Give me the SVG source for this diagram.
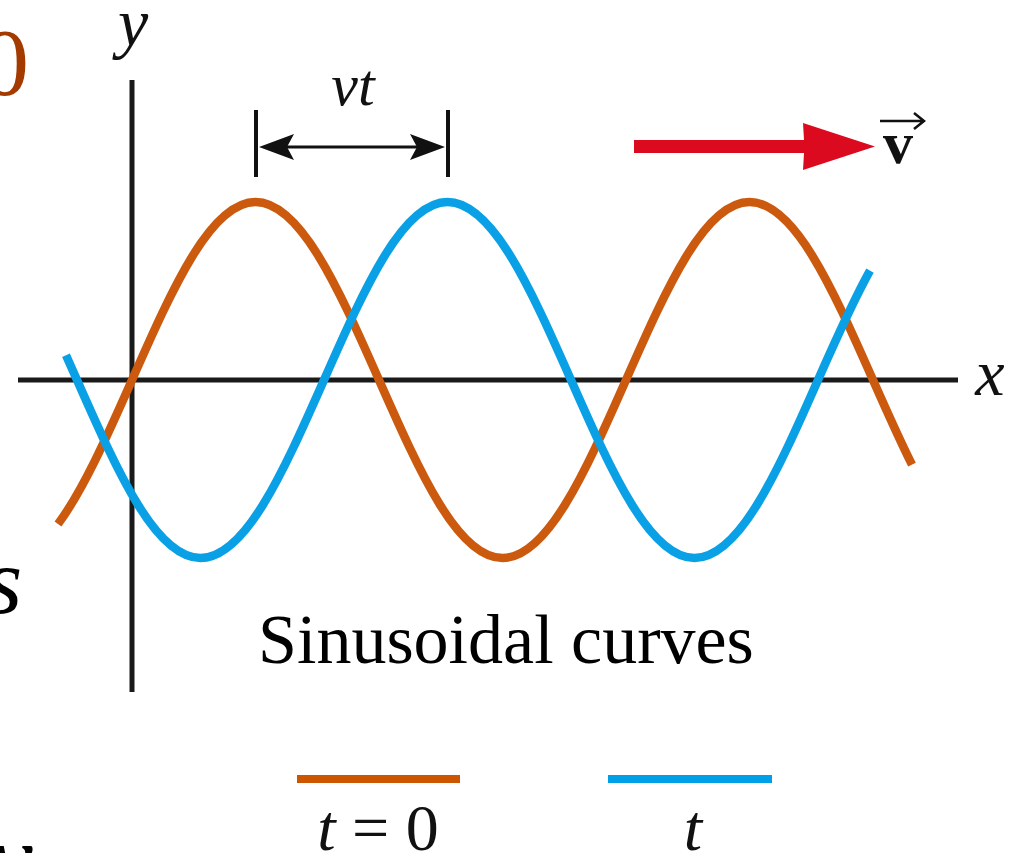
<svg xmlns="http://www.w3.org/2000/svg" width="1010" height="853" viewBox="0 0 1010 853">
<style>
.serif{font-family:"Liberation Serif","Times New Roman",serif;}
.it{font-style:italic;}
.axis{stroke:#1a1a1a;stroke-width:5;fill:none;}
.wave{fill:none;stroke-width:8.5;stroke-linecap:butt;stroke-linejoin:round;}
.orange{stroke:#CC5A0E;}
.blue{stroke:#0AA0E6;}
.dim{stroke:#111;fill:none;}
</style>
<rect width="1010" height="853" fill="#ffffff"/>
<g id="background-text" class="serif">
<text x="-19" y="95" font-size="96" fill="#A33B00">0</text>
<text x="-15" y="613" font-size="96" class="it" fill="#000">s</text>
<text x="-10" y="890" font-size="96" class="it" fill="#000">v</text>
</g>
<g id="axes">
<line class="axis" x1="132" y1="80" x2="132" y2="692"/>
<line class="axis" x1="18" y1="380" x2="958" y2="380"/>
<text class="serif it" x="133" y="46" font-size="68" text-anchor="middle" fill="#111">y</text>
<text class="serif it" x="990" y="395" font-size="66" text-anchor="middle" fill="#111">x</text>
</g>
<g id="connectors">
<path id="wave-t0" class="wave orange" d="M58,524 C82.67,491.07 107.33,435.85 132,380 C173.28,286.53 210.97,202 255.5,202 S337.72,286.53 379,380 S457.97,558 502.5,558 S584.72,473.47 626,380 S704.97,202 749.5,202 S831.72,286.53 873,380 C886,409.43 899,438.8 912,464.7"/>
<path id="wave-t" class="wave blue" d="M66,355.2 C69.67,363.42 73.33,371.7 77,380 C118.28,473.47 155.97,558 200.5,558 S282.72,473.47 324,380 S402.97,202 447.5,202 S529.72,286.53 571,380 S649.97,558 694.5,558 S776.72,473.47 818,380 C835.33,340.76 852.67,301.67 870,270.7"/>
</g>
<g id="vt-dimension">
<line class="dim" x1="256" y1="110" x2="256" y2="177" stroke-width="4"/>
<line class="dim" x1="448" y1="110" x2="448" y2="177" stroke-width="4"/>
<line class="dim" x1="280" y1="147" x2="425" y2="147" stroke-width="3"/>
<polygon points="259,147 294,134 287,147 294,160" fill="#111"/>
<polygon points="445,147 410,134 417,147 410,160" fill="#111"/>
<text class="serif it" x="353" y="105" font-size="60" text-anchor="middle" fill="#111">vt</text>
</g>
<g id="velocity">
<polygon points="634,140 804,140 803,123 875,146.5 803,170 804,153 634,153" fill="#DC0A1E"/>
<text class="serif" x="898" y="163" font-size="60" font-weight="bold" text-anchor="middle" fill="#111">v</text>
<path d="M880,121 H923 M914,113 L924,121 L914,129" stroke="#111" stroke-width="2.5" fill="none"/>
</g>
<g id="caption">
<text class="serif" x="258" y="663" font-size="70" fill="#000">Sinusoidal curves</text>
</g>
<g id="legend">
<line x1="297" y1="779" x2="460" y2="779" stroke="#CC5500" stroke-width="8"/>
<line x1="608" y1="779" x2="772" y2="779" stroke="#00A0E9" stroke-width="8"/>
<text class="serif" x="378" y="850" font-size="66" text-anchor="middle" fill="#111"><tspan font-style="italic">t</tspan> = 0</text>
<text class="serif it" x="693" y="850" font-size="66" text-anchor="middle" fill="#111">t</text>
</g>
</svg>
